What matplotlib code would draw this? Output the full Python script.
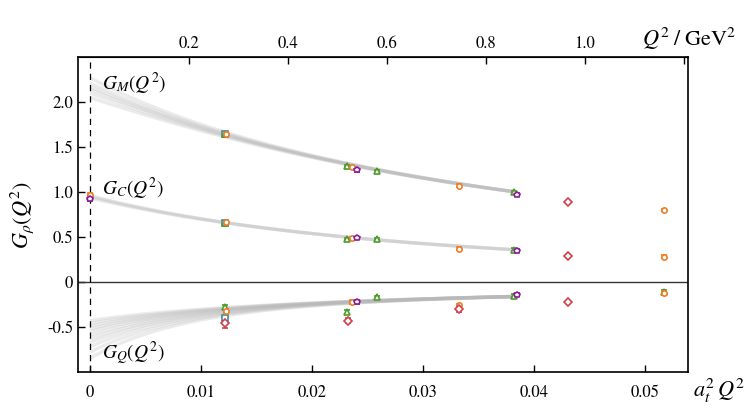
import numpy as np
import matplotlib
matplotlib.use("Agg")
import matplotlib.pyplot as plt

plt.rcParams['font.family'] = ['STIXGeneral', 'DejaVu Serif']
plt.rcParams['mathtext.fontset'] = 'stix'

# conversion a_t^2 Q^2 -> Q^2 / GeV^2
at_inv2 = 22.42

# fit bands: base pole form A / (1 + x/L)^p, plus spread of the Q^2=0 value
# that dies off over a width w
gm_fit = (2.17, 0.0813, 2)
gm_offsets = [-0.12, -0.07, -0.03, 0.0, 0.04, 0.10]
gm_w = 0.009
gc_fit = (0.95, 0.0611, 2)
gc_offsets = [-0.015, 0.0, 0.012]
gc_w = 0.008
gq_fit = (-0.55, 0.01576, 1)
gq_offsets = [0.12, 0.09, 0.06, 0.03, 0.0, -0.04, -0.08, -0.12, -0.17, -0.23, -0.30]
gq_w = 0.008
band_end = 0.0385

# lattice data points
teal_x = [0.0122]
teal_gm = [1.64]
teal_gc = [0.66]
teal_gq = [-0.40]

green_x = [0.0, 0.0122, 0.0232, 0.0259, 0.0382, 0.0517]
green_gm = [np.nan, 1.645, 1.29, 1.23, 1.00, np.nan]
green_gc = [0.95, 0.66, 0.48, 0.48, 0.36, np.nan]
green_gq = [np.nan, -0.28, -0.33, -0.17, -0.15, -0.11]

orange_x = [0.0, 0.0123, 0.0236, 0.0333, 0.0517]
orange_gm = [np.nan, 1.64, 1.28, 1.07, 0.80]
orange_gc = [0.97, 0.665, 0.49, 0.37, 0.28]
orange_gq = [np.nan, -0.32, -0.22, -0.26, -0.12]

purple_x = [0.0, 0.0241, 0.0385]
purple_gm = [np.nan, 1.24, 0.97]
purple_gc = [0.92, 0.49, 0.35]
purple_gq = [np.nan, -0.22, -0.14]

red_x = [0.0122, 0.0233, 0.0333, 0.0431]
red_gm = [np.nan, np.nan, np.nan, 0.89]
red_gc = [np.nan, np.nan, np.nan, 0.29]
red_gq = [-0.46, -0.43, -0.30, -0.22]
red_gq_err = [0.05, 0.03, 0.03, 0.01]

series = [
    ("#3d8c9e", "s", teal_x, teal_gm, teal_gc, teal_gq, None),
    ("#4e9a2c", "^", green_x, green_gm, green_gc, green_gq, None),
    ("#f07d22", "o", orange_x, orange_gm, orange_gc, orange_gq, None),
    ("#8a1c98", "p", purple_x, purple_gm, purple_gc, purple_gq, None),
    ("#d2404e", "D", red_x, red_gm, red_gc, red_gq, red_gq_err),
]

fig = plt.figure(figsize=(7.47, 4.11), dpi=100)
ax = fig.add_axes([0.1044, 0.0949, 0.8166, 0.7661])

# bands
xx = np.linspace(0, band_end, 200)
for (A, L, p), offs, w in [(gm_fit, gm_offsets, gm_w), (gc_fit, gc_offsets, gc_w),
                           (gq_fit, gq_offsets, gq_w)]:
    base = A / (1 + xx / L) ** p
    for d in offs:
        ax.plot(xx, base + d * np.exp(-xx / w), color='0.72', lw=2.4, alpha=0.28,
                solid_capstyle='butt', zorder=1)

for col, mk, xs, gm, gc, gq, gqe in series:
    for ys in (gm, gc):
        ax.errorbar(xs, ys, yerr=0.015, fmt=mk, color=col, mfc='white', mec=col,
                    ms=3.8, mew=1.2, elinewidth=1, capsize=2.5, zorder=3)
    ax.errorbar(xs, gq, yerr=gqe if gqe is not None else 0.02, fmt=mk, color=col,
                mfc='white', mec=col, ms=3.8, mew=1.2, elinewidth=1, capsize=2.5, zorder=3)

ax.axhline(0, color='0.2', lw=1.0, zorder=2)
ax.axvline(0, color='black', lw=0.9, ls=(0, (5, 4)), zorder=2)

ax.set_xlim(-0.00108, 0.0539)
ax.set_ylim(-1.0, 2.5)
ax.set_xticks([0, 0.01, 0.02, 0.03, 0.04, 0.05])
ax.set_xticklabels(['0', '0.01', '0.02', '0.03', '0.04', '0.05'])
ax.set_yticks([-0.5, 0, 0.5, 1.0, 1.5, 2.0])
ax.set_yticklabels(['-0.5', '0', '0.5', '1.0', '1.5', '2.0'])
ax.tick_params(direction='in', length=5, width=1, labelsize=12, top=False, right=False)
ax.tick_params(axis='x', pad=9)
for s in ax.spines.values():
    s.set_linewidth(1.2)

top = ax.secondary_xaxis('top', functions=(lambda x: x * at_inv2, lambda q: q / at_inv2))
top.set_xticks([0.2, 0.4, 0.6, 0.8, 1.0, 1.2])
top.set_xticklabels(['0.2', '0.4', '0.6', '0.8', '1.0', ''])
top.tick_params(direction='in', length=5, width=1, labelsize=12)

ax.set_ylabel(r'$G_\rho(Q^2)$', fontsize=16, labelpad=8)
fig.text(0.962, 0.05, r'$a_t^2\,Q^2$', fontsize=16, ha='center', va='center')
fig.text(0.922, 0.905, r'$Q^2\;/\;\mathrm{GeV}^2$', fontsize=16, ha='center', va='center')

ax.text(0.0011, 2.2, r'$G_M(Q^2)$', fontsize=14, ha='left', va='center')
ax.text(0.0011, 1.03, r'$G_C(Q^2)$', fontsize=14, ha='left', va='center')
ax.text(0.0011, -0.79, r'$G_Q(Q^2)$', fontsize=14, ha='left', va='center')

fig.savefig('out.png', dpi=100)
